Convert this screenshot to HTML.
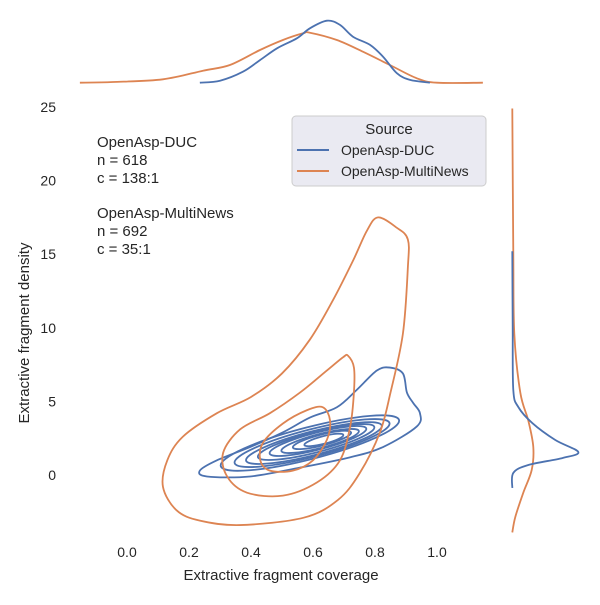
<!DOCTYPE html>
<html><head><meta charset="utf-8"><style>
body{margin:0;background:#fff}
svg text{font-family:"Liberation Sans",sans-serif;fill:#262626}
</style></head><body>
<svg id="c" width="600" height="600" viewBox="0 0 600 600" xmlns="http://www.w3.org/2000/svg">
<g id="axes"></g>
<g id="marks"></g>
<g font-size="15">
<text x="97" y="147">OpenAsp-DUC</text>
<text x="97" y="165">n = 618</text>
<text x="97" y="183">c = 138:1</text>
<text x="97" y="218">OpenAsp-MultiNews</text>
<text x="97" y="236">n = 692</text>
<text x="97" y="254">c = 35:1</text>
</g>
<g>
<rect x="292" y="116" width="194" height="70" rx="4" fill="#eaeaf2" stroke="#cccccc"/>
<text x="389" y="134" text-anchor="middle" font-size="15">Source</text>
<line x1="297" y1="150" x2="329" y2="150" stroke="#4c72b0" stroke-width="2"/>
<text x="341" y="155" font-size="14">OpenAsp-DUC</text>
<line x1="297" y1="171" x2="329" y2="171" stroke="#dd8452" stroke-width="2"/>
<text x="341" y="176" font-size="14">OpenAsp-MultiNews</text>
</g>
</svg>
<script>
const xTicks=[0,0.2,0.4,0.6,0.8,1.0];
const xTickLabels=["0.0","0.2","0.4","0.6","0.8","1.0"];
const yTicks=[0,5,10,15,20,25];
const yTickLabels=["0","5","10","15","20","25"];
// orange contours: [x, y] data points
const orangeOuterX=[0.81,0.87,0.906,0.906,0.89,0.85,0.816,0.75,0.68,0.57,0.365,0.235,0.16,0.116,0.13,0.18,0.29,0.40,0.50,0.59,0.665,0.73,0.774];
const orangeOuterY=[17.5,16.8,16.0,14.1,9.6,5.6,2.9,0.1,-1.7,-2.9,-3.4,-3.1,-2.4,-0.8,1.0,2.6,4.2,5.3,6.9,9.2,11.9,14.6,16.6];
const orangeMidX=[0.713,0.732,0.732,0.72,0.687,0.613,0.503,0.387,0.323,0.31,0.365,0.461,0.558,0.645,0.697];
const orangeMidY=[8.1,7.3,5.6,3.3,1.0,-0.5,-1.4,-1.2,-0.1,1.5,3.1,4.2,5.6,7.1,8.0];
const orangeInnerX=[0.632,0.655,0.645,0.60,0.535,0.461,0.43,0.439,0.503,0.58];
const orangeInnerY=[4.6,3.7,2.4,1.0,0.3,0.3,1.0,2.2,3.5,4.4];
const blueOuterX=[0.235,0.29,0.397,0.503,0.59,0.677,0.742,0.806,0.848,0.89,0.903,0.923,0.945,0.935,0.826,0.719,0.558,0.397,0.258];
const blueOuterY=[0.3,1.0,1.9,2.9,3.9,4.6,5.8,7.1,7.3,6.9,5.6,4.9,4.2,3.3,1.9,1.2,0.5,-0.1,-0.1];
// inner blue levels as ellipses: center x/y, half-length (x units), half-width (y units)
const blueLevelCx=[0.59,0.597,0.603,0.61,0.616,0.623,0.629,0.635];
const blueLevelCy=[2.17,2.17,2.17,2.24,2.31,2.31,2.38,2.38];
const blueLevelA=[0.297,0.258,0.226,0.194,0.161,0.129,0.097,0.065];
const blueLevelB=[1.08,0.93,0.8,0.69,0.58,0.47,0.37,0.26];
// marginals
const topBlueX=[0.235,0.3,0.374,0.429,0.484,0.548,0.590,0.645,0.687,0.729,0.784,0.826,0.871,0.913,0.977];
const topBlueD=[0,0.1,0.55,1.13,1.72,2.22,2.72,3.1,2.89,2.3,1.89,1.3,0.47,0.14,0];
const topOrangeX=[-0.152,-0.045,0.116,0.245,0.332,0.429,0.503,0.568,0.590,0.677,0.761,0.848,0.935,1.0,1.148];
const topOrangeD=[0,0.035,0.17,0.6,0.885,1.635,2.135,2.47,2.5,2.135,1.55,0.885,0.22,0,0];
const rightBlueY=[15.2,10,5.77,4.62,3.53,2.38,1.56,1.15,0.68,0.14,-0.88];
const rightBlueD=[0,0.02,0.05,0.3,1.0,2.15,3.3,2.5,0.8,0.05,0];
const rightOrangeY=[24.9,15,9.6,5.6,3.7,1.9,0.34,-1.2,-2.85,-3.9];
const rightOrangeD=[0,0.05,0.1,0.4,0.8,1.05,0.97,0.55,0.15,0];

const sx=v=>127+v*310, sy=v=>475-v*14.72;
const topBase=82.7, topScale=20, rightBase=512.3, rightScale=20;
const NS="http://www.w3.org/2000/svg";
const axes=document.getElementById('axes'), marks=document.getElementById('marks');
function mk(tag,attrs,parent){const e=document.createElementNS(NS,tag);for(const k in attrs)e.setAttribute(k,attrs[k]);parent.appendChild(e);return e;}
function smooth(pts,closed){
  const n=pts.length;let d=`M${pts[0][0]},${pts[0][1]}`;
  const P=i=>closed?pts[(i+n)%n]:pts[Math.max(0,Math.min(n-1,i))];
  const m=closed?n:n-1;
  for(let i=0;i<m;i++){const p0=P(i-1),p1=P(i),p2=P(i+1),p3=P(i+2);
    d+=`C${p1[0]+(p2[0]-p0[0])/6},${p1[1]+(p2[1]-p0[1])/6} ${p2[0]-(p3[0]-p1[0])/6},${p2[1]-(p3[1]-p1[1])/6} ${p2[0]},${p2[1]}`;}
  return d+(closed?'Z':'');
}
xTicks.forEach((v,i)=>{const t=mk('text',{x:sx(v),y:557,'text-anchor':'middle','font-size':14},axes);t.textContent=xTickLabels[i];

});
yTicks.forEach((v,i)=>{const t=mk('text',{x:56,y:sy(v)+5,'text-anchor':'end','font-size':14},axes);t.textContent=yTickLabels[i];

});
let xl=mk('text',{x:281,y:580,'text-anchor':'middle','font-size':15},axes);xl.textContent='Extractive fragment coverage';


let yl=mk('text',{x:0,y:0,'text-anchor':'middle','font-size':15,transform:'translate(29,333) rotate(-90)'},axes);yl.textContent='Extractive fragment density';



function contour(X,Y,color,name){const pts=X.map((x,i)=>[sx(x),sy(Y[i])]);
  const p=mk('path',{d:smooth(pts,true),fill:'none',stroke:color,'stroke-width':1.8},marks);
  
  }
contour(blueOuterX,blueOuterY,'#4c72b0','blue-contour-outer');
const angDeg=-14.5;
blueLevelCx.forEach((cx,i)=>{
  const a=blueLevelA[i]*310,b=blueLevelB[i]*14.72,ccx=sx(cx),ccy=sy(blueLevelCy[i]);
  const e=mk('ellipse',{cx:ccx,cy:ccy,rx:a,ry:b,transform:`rotate(${angDeg} ${ccx} ${ccy})`,fill:'none',stroke:'#4c72b0','stroke-width':1.8},marks);
  
  
});
contour(orangeOuterX,orangeOuterY,'#dd8452','orange-contour-outer');
contour(orangeMidX,orangeMidY,'#dd8452','orange-contour-middle');
contour(orangeInnerX,orangeInnerY,'#dd8452','orange-contour-inner');

function topCurve(X,D,color,name){const pts=X.map((x,i)=>[sx(x),topBase-D[i]*topScale]);
  const p=mk('path',{d:smooth(pts,false),fill:'none',stroke:color,'stroke-width':1.8},marks);
  
  }
topCurve(topOrangeX,topOrangeD,'#dd8452','top-marginal-multinews');
topCurve(topBlueX,topBlueD,'#4c72b0','top-marginal-duc');
function rightCurve(Y,D,color,name){const pts=Y.map((y,i)=>[rightBase+D[i]*rightScale,sy(y)]);
  const p=mk('path',{d:smooth(pts,false),fill:'none',stroke:color,'stroke-width':1.8},marks);
  
  }
rightCurve(rightOrangeY,rightOrangeD,'#dd8452','right-marginal-multinews');
rightCurve(rightBlueY,rightBlueD,'#4c72b0','right-marginal-duc');
</script>
</body></html>
